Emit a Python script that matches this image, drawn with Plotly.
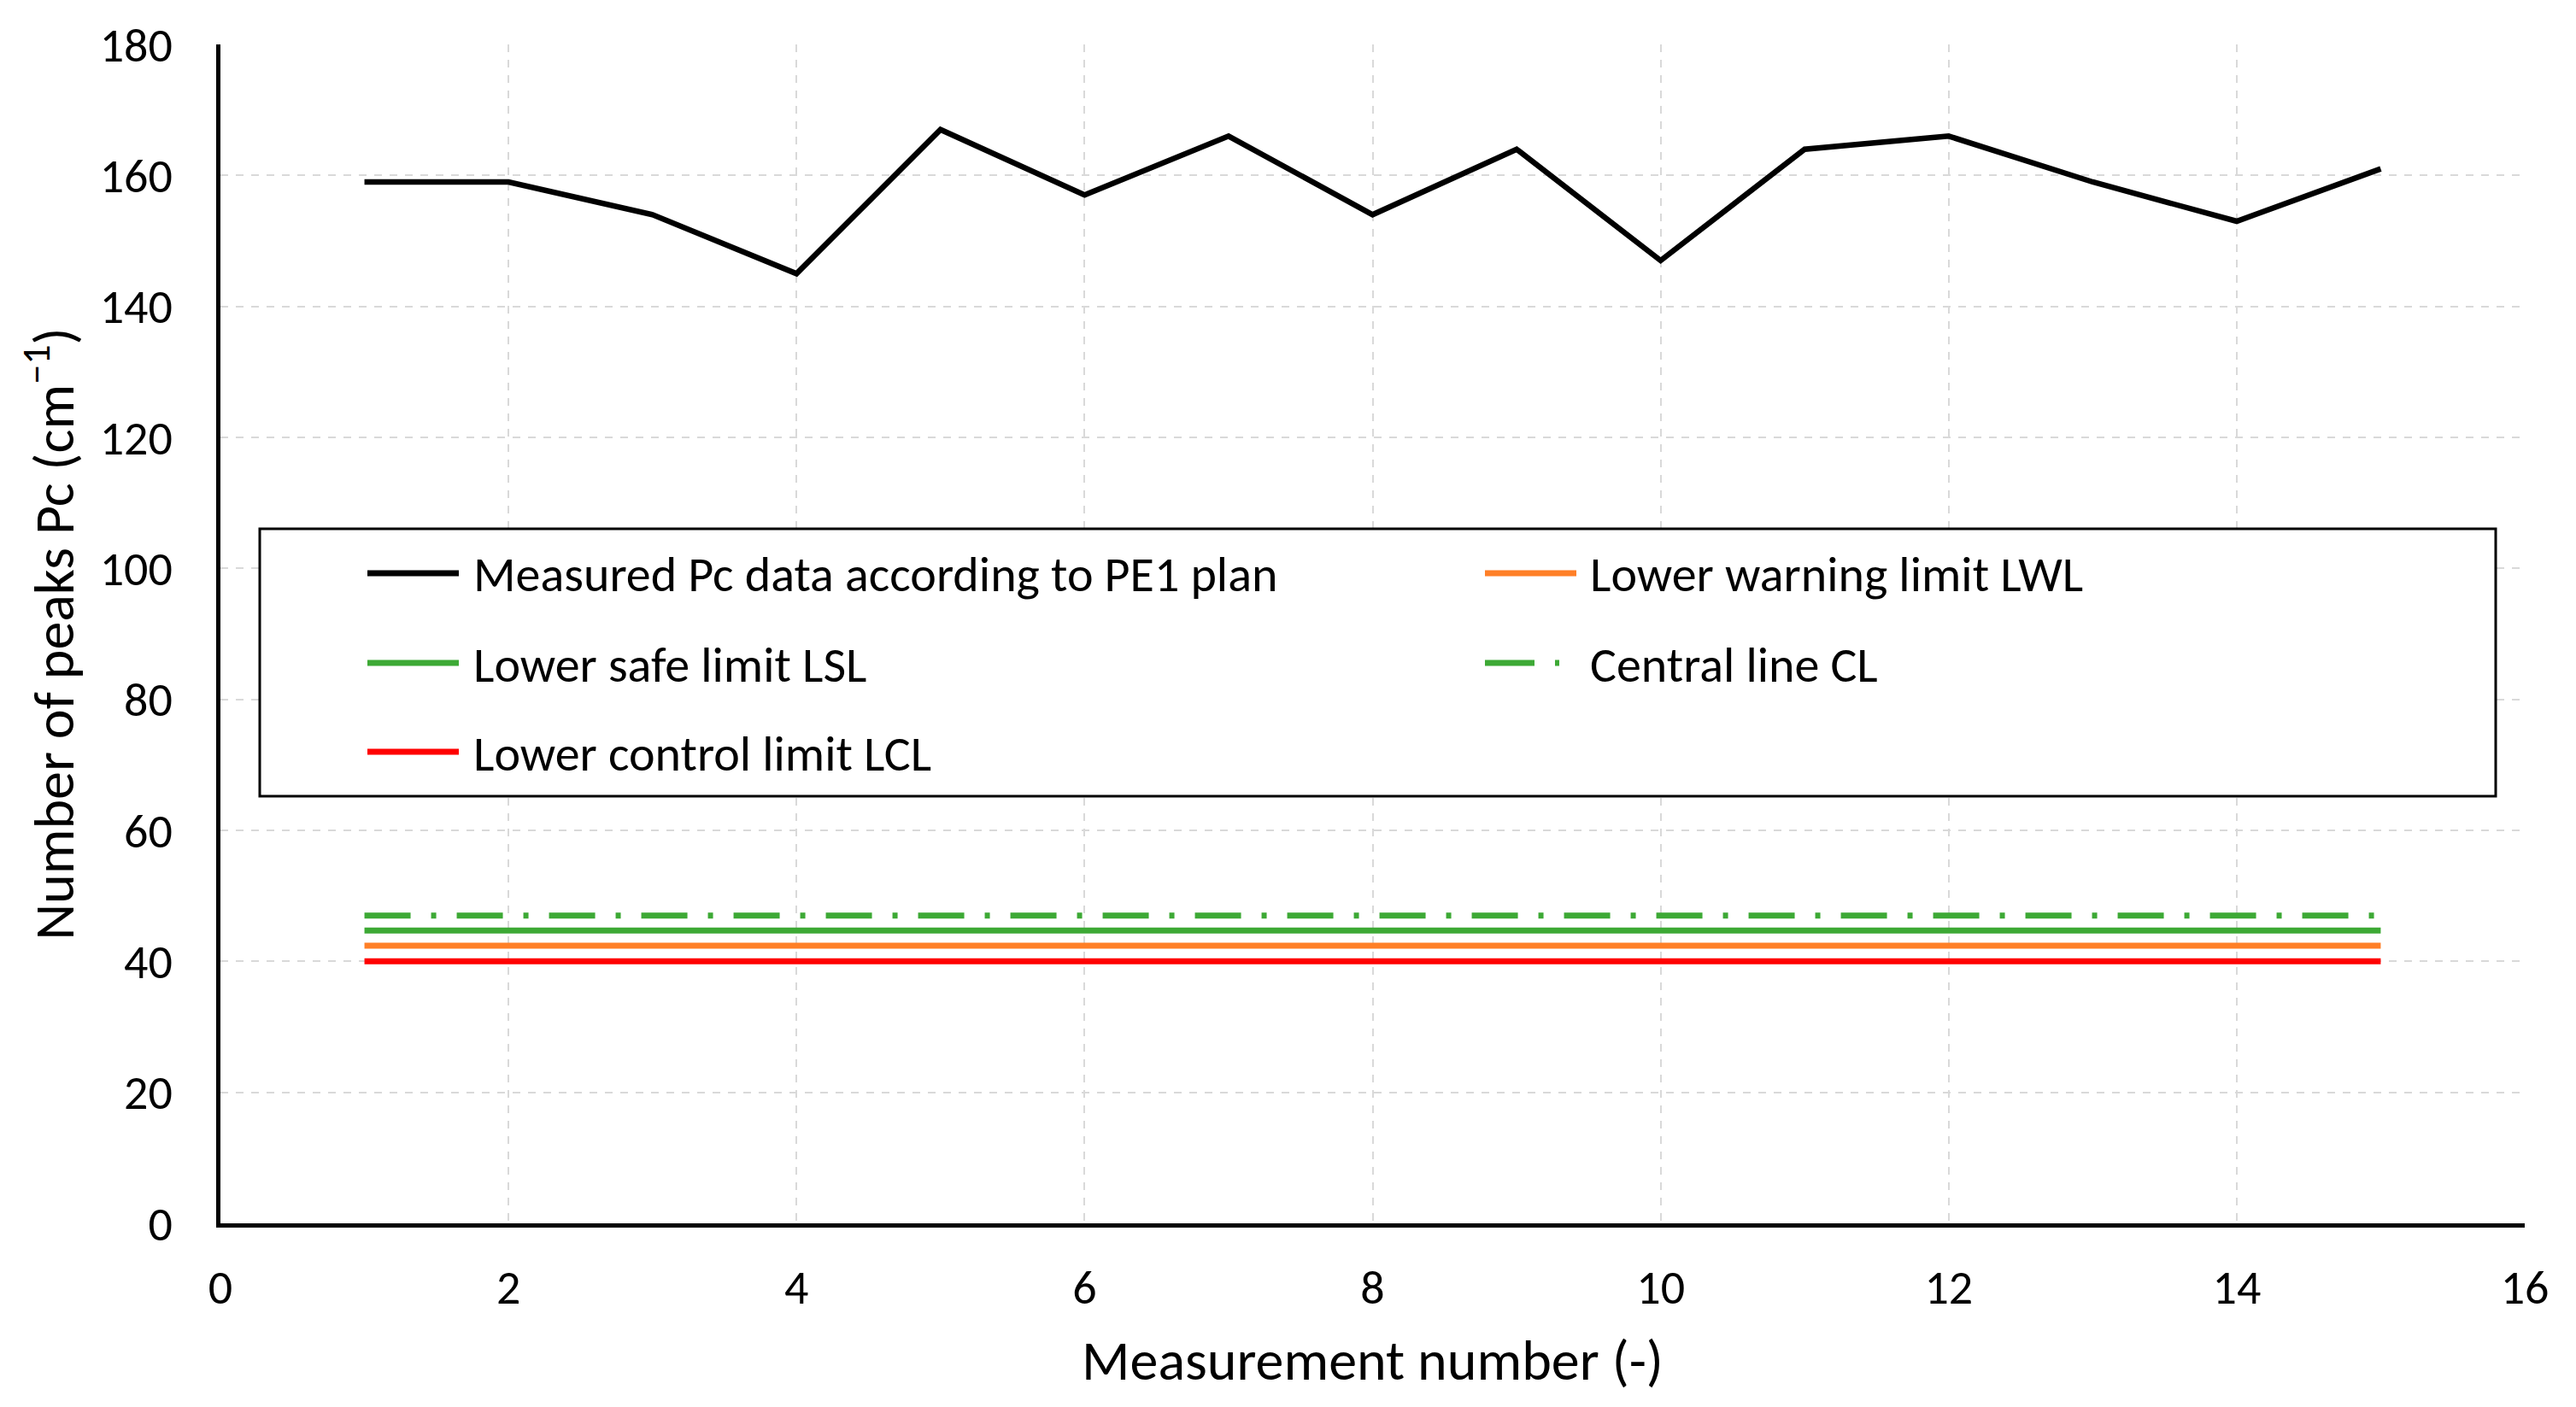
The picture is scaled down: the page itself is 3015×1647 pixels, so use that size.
import plotly.graph_objects as go

# ---- data ----
measurement_number = [1, 2, 3, 4, 5, 6, 7, 8, 9, 10, 11, 12, 13, 14, 15]
pc_measured = [159, 159, 154, 145, 167, 157, 166, 154, 164, 147, 164, 166, 159, 153, 161]
limit_names = ["Lower warning limit LWL", "Lower safe limit LSL", "Central line CL", "Lower control limit LCL"]
limit_values = [42.4, 44.7, 47.0, 40.0]
series_name = "Measured Pc data according to PE1 plan"
x_ticks = [0, 2, 4, 6, 8, 10, 12, 14, 16]
y_ticks = [0, 20, 40, 60, 80, 100, 120, 140, 160, 180]

FONT = "Carlito, Lato, sans-serif"
OFF = 8  # page body margin
W, H = 3015 - 2 * OFF, 1647 - 2 * OFF
ML, MR, MT, MB = 258 - OFF, 52, 52 - OFF, 207

ORANGE = "#FF7F27"
GREEN = "#3DA935"
RED = "#FF0000"

styles = {
    "Lower warning limit LWL": dict(color=ORANGE, width=7, dash="solid"),
    "Lower safe limit LSL": dict(color=GREEN, width=7, dash="solid"),
    "Central line CL": dict(color=GREEN, width=7, dash="54px,24px,6px,24px"),
    "Lower control limit LCL": dict(color=RED, width=7, dash="solid"),
}

fig = go.Figure()
x_ends = [measurement_number[0], measurement_number[-1]]
for name, val in zip(limit_names, limit_values):
    fig.add_trace(go.Scatter(x=x_ends, y=[val, val], mode="lines", name=name,
                             line=styles[name], showlegend=False))
fig.add_trace(go.Scatter(x=measurement_number, y=pc_measured, mode="lines", name=series_name,
                         line=dict(color="black", width=6.5), showlegend=False))

# ---- manual legend (Excel-like boxed legend with long line samples) ----
pw = W - ML - MR
ph = H - MT - MB
def px_x(p):
    return (p - OFF - ML) / pw
def px_y(p):
    return (H - MB - (p - OFF)) / ph

fig.add_shape(type="rect", xref="paper", yref="paper",
              x0=px_x(304), x1=px_x(2921), y0=px_y(932), y1=px_y(619),
              line=dict(color="black", width=3), fillcolor="white", layer="above")

legend_items = [
    (series_name, dict(color="black", width=7, dash="solid"), 430, 537, 552, 671),
    ("Lower warning limit LWL", dict(color=ORANGE, width=7), 1738, 1845, 1859, 671),
    ("Lower safe limit LSL", dict(color=GREEN, width=7), 430, 537, 552, 776),
    ("Central line CL", dict(color=GREEN, width=7, dash="58px,24px,5px,24px"), 1738, 1845, 1859, 776),
    ("Lower control limit LCL", dict(color=RED, width=7), 430, 537, 552, 880),
]
for text, ln, lx0, lx1, tx, yc in legend_items:
    fig.add_shape(type="line", xref="paper", yref="paper",
                  x0=px_x(lx0), x1=px_x(lx1), y0=px_y(yc), y1=px_y(yc),
                  line=ln, layer="above")
    fig.add_annotation(x=px_x(tx), y=px_y(yc + 2), xref="paper", yref="paper",
                       text=text, showarrow=False, xanchor="left", yanchor="middle",
                       font=dict(family=FONT, size=58, color="black"))

fig.update_layout(
    width=W, height=H,
    margin=dict(l=ML, r=MR, t=MT, b=MB, autoexpand=False),
    paper_bgcolor="white", plot_bgcolor="white",
    font=dict(family=FONT, size=56, color="black"),
    showlegend=False,
)
fig.update_xaxes(
    range=[0, 16], tickvals=x_ticks, ticks="", ticklabelstandoff=22,
    showline=True, linecolor="black", linewidth=5,
    showgrid=True, gridcolor="#D9D9D9", gridwidth=2, griddash="dash", zeroline=False,
    tickfont=dict(family=FONT, size=56),
    title=dict(text="Measurement number (-)", font=dict(family=FONT, size=66), standoff=30),
    automargin=False,
)
fig.update_yaxes(
    range=[0, 180], tickvals=y_ticks, ticks="", ticklabelstandoff=40,
    showline=True, linecolor="black", linewidth=5,
    showgrid=True, gridcolor="#D9D9D9", gridwidth=2, griddash="dash", zeroline=False,
    tickfont=dict(family=FONT, size=56),
    title=dict(text="Number of peaks Pc (cm<sup>−1</sup>)", font=dict(family=FONT, size=66), standoff=10),
    automargin=False,
)

fig.write_html("out.html")
